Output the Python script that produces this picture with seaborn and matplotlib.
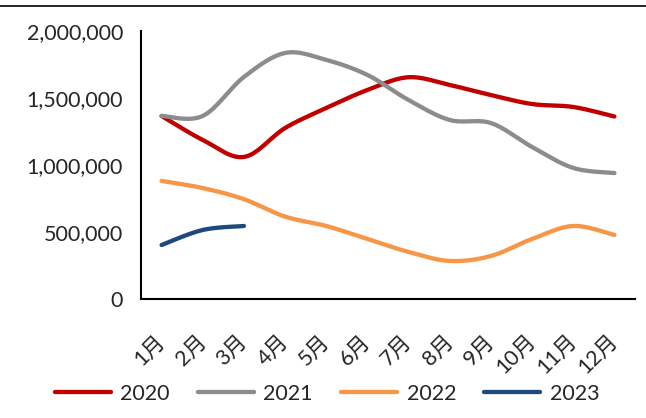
import numpy as np
import pandas as pd
import matplotlib
matplotlib.use("Agg")
import matplotlib.pyplot as plt
from matplotlib.lines import Line2D
from matplotlib.ticker import FuncFormatter, FixedLocator
import seaborn as sns

# Monthly values per year
months = ["1月", "2月", "3月", "4月", "5月", "6月", "7月", "8月", "9月", "10月", "11月", "12月"]
y2020 = [1366000, 1187000, 1060000, 1276000, 1425000, 1560000, 1655000, 1597000, 1522000, 1455000, 1433000, 1362000]
y2021 = [1366000, 1366000, 1657000, 1836000, 1784000, 1672000, 1485000, 1336000, 1313000, 1134000, 978000, 940000]
y2022 = [881000, 828000, 745000, 615000, 545000, 448000, 351000, 284000, 321000, 448000, 545000, 478000]
y2023 = [403000, 515000, 545000]
years = ["2020", "2021", "2022", "2023"]
series = [y2020, y2021, y2022, y2023]
palette = {"2020": "#C00000", "2021": "#8C8C8C", "2022": "#F79646", "2023": "#1F497D"}


def smooth(xs, ys, steps=30):
    """Sample a Catmull-Rom style cubic Bezier through the points (spreadsheet 'smoothed line')."""
    xs = np.asarray(xs, float)
    ys = np.asarray(ys, float)
    px = np.concatenate([[xs[0]], xs, [xs[-1]]])
    py = np.concatenate([[ys[0]], ys, [ys[-1]]])
    t = np.linspace(0, 1, steps)[:, None]
    outx, outy = [], []
    for i in range(1, len(px) - 2):
        p0 = np.array([px[i], py[i]])
        p3 = np.array([px[i + 1], py[i + 1]])
        c1 = p0 + (np.array([px[i + 1], py[i + 1]]) - np.array([px[i - 1], py[i - 1]])) / 6
        c2 = p3 - (np.array([px[i + 2], py[i + 2]]) - np.array([px[i], py[i]])) / 6
        pts = ((1 - t) ** 3) * p0 + 3 * ((1 - t) ** 2) * t * c1 + 3 * (1 - t) * t ** 2 * c2 + t ** 3 * p3
        if i > 1:
            pts = pts[1:]
        outx.append(pts[:, 0])
        outy.append(pts[:, 1])
    return np.concatenate(outx), np.concatenate(outy)


frames = []
for name, vals in zip(years, series):
    sx, sy = smooth(np.arange(len(vals)), vals)
    frames.append(pd.DataFrame({"pos": sx, "value": sy, "year": name}))
df = pd.concat(frames, ignore_index=True)

sns.set_style("white")
plt.rcParams["font.family"] = ["Lato", "Noto Sans CJK SC", "DejaVu Sans"]
FS = 15.5
LW = 3.1

fig = plt.figure(figsize=(6.46, 4.18), dpi=100)
ax = fig.add_axes([141 / 646, 1 - 299 / 418, (635 - 141) / 646, (299 - 31) / 418])

sns.lineplot(data=df, x="pos", y="value", hue="year", palette=palette, sort=False,
             linewidth=LW, ax=ax, legend=False, solid_capstyle="round")

ax.set_xlim(-0.5, 11.5)
ax.set_ylim(0, 2000000)
ax.set_yticks([0, 500000, 1000000, 1500000, 2000000])
ax.yaxis.set_major_formatter(FuncFormatter(lambda v, p: f"{int(v):,}"))

# Category boundaries carry the tick marks; labels sit at the category centres
ax.set_xticks(np.arange(-0.5, 12, 1))
ax.set_xticklabels([])
ax.xaxis.set_minor_locator(FixedLocator(np.arange(12)))
ax.set_xticklabels(months, minor=True, rotation=45, ha="right", va="center",
                   rotation_mode="anchor", fontsize=FS)
ax.tick_params(axis="x", which="minor", length=0, pad=28)
ax.tick_params(axis="x", which="major", direction="in", length=6, width=1.5)
ax.tick_params(axis="y", direction="in", length=6, width=1.5, labelsize=FS, pad=13)
ax.set_xlabel("")
ax.set_ylabel("")

for side in ["top", "right"]:
    ax.spines[side].set_visible(False)
for side in ["left", "bottom"]:
    ax.spines[side].set_linewidth(1.5)
    ax.spines[side].set_color("black")

handles = [Line2D([0], [0], color=palette[y], lw=LW, solid_capstyle="round") for y in years]
fig.legend(handles, years, loc="center", bbox_to_anchor=(327 / 646, 1 - 394 / 418), ncol=4,
           frameon=False, fontsize=FS, handlelength=2.6, columnspacing=1.3, handletextpad=0.45)

fig.add_artist(Line2D([0, 1], [1 - 6 / 418, 1 - 6 / 418], color="black", lw=1.2))

fig.savefig("out.png", dpi=100)
